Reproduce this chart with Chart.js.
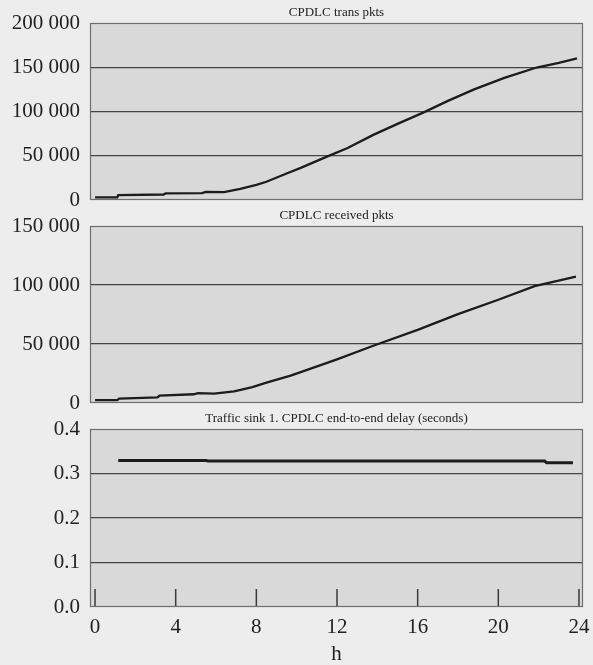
<!DOCTYPE html>
<html>
<head>
<meta charset="utf-8">
<script src="https://cdn.jsdelivr.net/npm/chart.js@4.4.0/dist/chart.umd.min.js"></script>
<style>
  html, body { margin: 0; padding: 0; background: #ededed; }
  #wrap { position: relative; width: 593px; height: 665px; }
  #wrap canvas { position: absolute; left: 0; top: 0; }
</style>
</head>
<body>
<div id="wrap">
  <canvas id="graficoTrans" width="593" height="665"></canvas>
  <canvas id="graficoRecv" width="593" height="665"></canvas>
  <canvas id="graficoDelay" width="593" height="665"></canvas>
</div>
<script>
// Datos (horas)
const horasTicks = [0, 4, 8, 12, 16, 20, 24];

const transHoras = [0, 1.1, 1.15, 3.4, 3.5, 5.3, 5.5, 6.4, 7.2, 8.0, 8.5, 9.5, 10.2, 11.5, 12.5, 13.8, 15.0, 16.3, 17.5, 18.8, 20.3, 21.9, 23.0, 23.9];
const transPkts = [3000, 3000, 5400, 6200, 7400, 7700, 9200, 9000, 12700, 17000, 20600, 30000, 36300, 49000, 58500, 73600, 86000, 99000, 112000, 125000, 138000, 149700, 155000, 160000];

const recvHoras = [0, 1.1, 1.2, 3.1, 3.2, 4.9, 5.1, 5.9, 6.9, 7.8, 8.5, 9.7, 10.2, 12.0, 13.8, 16.0, 18.0, 20.0, 21.8, 23.85];
const recvPkts = [2500, 2500, 3800, 4700, 6200, 7400, 8300, 8000, 9800, 13500, 17200, 23200, 26200, 37000, 48500, 62000, 75300, 87500, 99100, 107000];

const delayHoras = [1.15, 5.5, 5.6, 22.3, 22.4, 23.7];
const delaySeg = [0.329, 0.329, 0.328, 0.328, 0.324, 0.324];

Chart.defaults.font.family = "'Liberation Serif', 'Times New Roman', serif";
Chart.defaults.color = '#222';

// Fondo gris y marco del area de trazado
const fondoGrafico = {
    id: 'fondoGrafico',
    beforeDraw(chart) {
        const { ctx, chartArea: a } = chart;
        ctx.save();
        ctx.fillStyle = '#d9d9d9';
        ctx.fillRect(a.left, a.top, a.right - a.left, a.bottom - a.top);
        ctx.restore();
    },
    afterDraw(chart) {
        const { ctx, chartArea: a } = chart;
        ctx.save();
        ctx.strokeStyle = '#6e6e6e';
        ctx.lineWidth = 1.2;
        ctx.strokeRect(a.left + 0.5, a.top + 0.5, a.right - a.left - 1, a.bottom - a.top - 1);
        ctx.restore();
    }
};

// Marcas del eje x hacia dentro (solo grafico inferior)
const marcasInternas = {
    id: 'marcasInternas',
    afterDatasetsDraw(chart) {
        const { ctx, chartArea: a } = chart;
        const x = chart.scales.x;
        ctx.save();
        ctx.strokeStyle = '#3a3a3a';
        ctx.lineWidth = 1.5;
        x.ticks.forEach(t => {
            const px = x.getPixelForValue(t.value);
            ctx.beginPath();
            ctx.moveTo(px, a.bottom);
            ctx.lineTo(px, a.bottom - 18);
            ctx.stroke();
        });
        ctx.restore();
    }
};

function formatoMiles(v) {
    return String(v).replace(/\B(?=(\d{3})+(?!\d))/g, ' ');
}

function crearGrafico(id, titulo, horas, valores, yMax, yPaso, formato, padding, ejeX, grosor) {
    const puntos = horas.map((h, i) => ({ x: h, y: valores[i] }));
    const plugins = [fondoGrafico];
    if (ejeX) plugins.push(marcasInternas);

    return new Chart(document.getElementById(id).getContext('2d'), {
        type: 'line',
        data: {
            datasets: [{
                data: puntos,
                borderColor: '#1c1c1c',
                borderWidth: grosor,
                pointRadius: 0,
                tension: 0,
                fill: false
            }]
        },
        options: {
            responsive: false,
            animation: false,
            layout: { padding: padding },
            plugins: {
                legend: { display: false },
                tooltip: { enabled: false },
                title: {
                    display: true,
                    text: titulo,
                    fullSize: false,
                    font: { size: 13, weight: 'normal' },
                    color: '#222',
                    padding: { top: 0, bottom: 3 }
                }
            },
            scales: {
                x: {
                    type: 'linear',
                    display: ejeX,
                    min: -0.25,
                    max: 24.2,
                    afterBuildTicks: s => { s.ticks = horasTicks.map(v => ({ value: v })); },
                    afterFit: s => {
                        s.height = ejeX ? 58 : 0;
                        s.paddingLeft = 0;
                        s.paddingRight = 0;
                    },
                    grid: { display: false, drawTicks: false },
                    border: { display: false },
                    ticks: { font: { size: 21 }, padding: 8, maxRotation: 0 },
                    title: {
                        display: ejeX,
                        text: 'h',
                        font: { size: 21, lineHeight: 1 },
                        padding: { top: 0, bottom: 0 }
                    }
                },
                y: {
                    min: 0,
                    max: yMax,
                    afterFit: s => { s.width = 90; },
                    grid: {
                        drawTicks: false,
                        lineWidth: 1.3,
                        color: c => (c.tick && (c.tick.value === 0 || c.tick.value >= yMax - 1e-9)) ? 'rgba(0,0,0,0)' : '#444'
                    },
                    border: { display: false },
                    ticks: {
                        stepSize: yPaso,
                        padding: 10,
                        font: { size: 21 },
                        callback: formato
                    }
                }
            }
        },
        plugins: plugins
    });
}

crearGrafico('graficoTrans', 'CPDLC trans pkts', transHoras, transPkts, 200000, 50000,
    v => formatoMiles(v), { top: 4.4, bottom: 465, left: 0, right: 10 }, false, 2.3);

crearGrafico('graficoRecv', 'CPDLC received pkts', recvHoras, recvPkts, 150000, 50000,
    v => formatoMiles(v), { top: 207.4, bottom: 262, left: 0, right: 10 }, false, 2.3);

crearGrafico('graficoDelay', 'Traffic sink 1. CPDLC end-to-end delay (seconds)', delayHoras, delaySeg, 0.4, 0.1,
    v => Number(v).toFixed(1), { top: 410.4, bottom: 0, left: 0, right: 10 }, true, 3);
</script>
</body>
</html>
